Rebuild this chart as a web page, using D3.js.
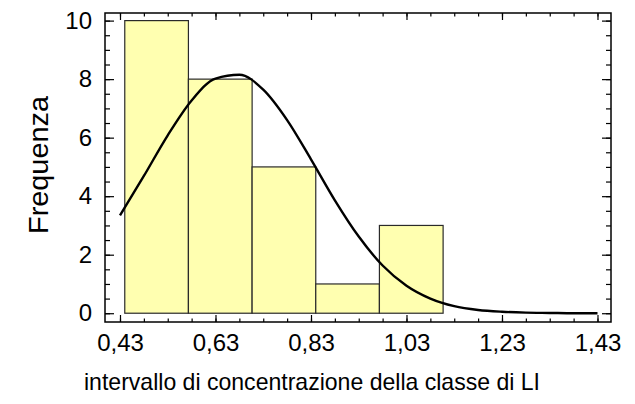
<!DOCTYPE html>
<html>
<head>
<meta charset="utf-8">
<script src="https://cdn.jsdelivr.net/npm/d3@7"></script>
<style>
  body { margin: 0; background: #fff; }
  svg { display: block; font-family: "Liberation Sans", Arial, sans-serif; }
  .frame { fill: none; stroke: #000; stroke-width: 1.5; }
  .tick line { stroke: #000; stroke-width: 1.2; }
  .domain { display: none; }
</style>
</head>
<body>
<div id="chart"></div>
<script>
// histogram classes (edges) and counts
const binEdges = [0.44, 0.5733, 0.7067, 0.84, 0.9733, 1.1067];
const frequencies = [10, 8, 5, 1, 3];

// fitted curve
const curveX = [0.43, 0.48, 0.53, 0.58, 0.63, 0.68, 0.73, 0.78, 0.83, 0.88, 0.93,
  0.98, 1.03, 1.08, 1.13, 1.18, 1.23, 1.28, 1.33, 1.38, 1.43];
const curveY = [3.34, 4.69, 6.08, 7.27, 8.02, 8.15, 7.64, 6.6, 5.26, 3.86, 2.62,
  1.63, 0.94, 0.5, 0.24, 0.11, 0.05, 0.02, 0.01, 0.0, 0.0];

const xTicks = [0.43, 0.63, 0.83, 1.03, 1.23, 1.43];
const yTicks = [0, 2, 4, 6, 8, 10];

const width = 635, height = 404;
const mLeft = 105, mRight = 611, mTop = 13, mBottom = 322;

const x = d3.scaleLinear().domain([0.3986, 1.4583]).range([mLeft, mRight]);
const y = d3.scaleLinear().domain([-0.3, 10.26]).range([mBottom, mTop]);

const svg = d3.select('#chart').append('svg')
  .attr('width', width)
  .attr('height', height);

const bins = frequencies.map((f, i) => ({ x0: binEdges[i], x1: binEdges[i + 1], n: f }));

svg.append('g')
  .selectAll('rect')
  .data(bins)
  .enter().append('rect')
  .attr('x', d => x(d.x0))
  .attr('y', d => y(d.n))
  .attr('width', d => x(d.x1) - x(d.x0))
  .attr('height', d => y(0) - y(d.n))
  .attr('fill', '#ffffb0')
  .attr('stroke', '#2a2a2a')
  .attr('stroke-width', 1.2);

const line = d3.line()
  .x(d => x(d[0]))
  .y(d => y(d[1]))
  .curve(d3.curveMonotoneX);

svg.append('path')
  .datum(curveX.map((v, i) => [v, curveY[i]]))
  .attr('d', line)
  .attr('fill', 'none')
  .attr('stroke', '#000')
  .attr('stroke-width', 2.4);

// ticks
const comma = d3.formatLocale({ decimal: ',', thousands: '.', grouping: [3], currency: ['', ''] });
const xMinor = d3.range(0, 21).map(i => 0.43 + i * 0.05);
const yMinor = d3.range(0, 21).map(i => i * 0.5);

function addAxis(axis, tx, ty) {
  const g = svg.append('g')
    .attr('transform', `translate(${tx},${ty})`)
    .call(axis);
  g.selectAll('text').attr('fill', '#000');
  return g;
}

addAxis(d3.axisBottom(x).tickValues(xMinor).tickSize(-3.5).tickFormat(''), 0, mBottom);
addAxis(d3.axisBottom(x).tickValues(xTicks).tickSize(-7).tickPadding(12)
  .tickFormat(comma.format('.2f')), 0, mBottom)
  .selectAll('text').attr('font-size', 24);
addAxis(d3.axisTop(x).tickValues(xMinor).tickSize(-3.5).tickFormat(''), 0, mTop);
addAxis(d3.axisTop(x).tickValues(xTicks).tickSize(-7).tickFormat(''), 0, mTop);

addAxis(d3.axisLeft(y).tickValues(yMinor).tickSize(-5).tickFormat(''), mLeft, 0);
addAxis(d3.axisLeft(y).tickValues(yTicks).tickSize(-9).tickPadding(13)
  .tickFormat(d3.format('d')), mLeft, 0)
  .selectAll('text').attr('font-size', 24);
addAxis(d3.axisRight(y).tickValues(yMinor).tickSize(-5).tickFormat(''), mRight, 0);
addAxis(d3.axisRight(y).tickValues(yTicks).tickSize(-9).tickFormat(''), mRight, 0);

svg.append('rect')
  .attr('class', 'frame')
  .attr('x', mLeft)
  .attr('y', mTop)
  .attr('width', mRight - mLeft)
  .attr('height', mBottom - mTop);

// axis titles
svg.append('text')
  .attr('x', 312)
  .attr('y', 390)
  .attr('text-anchor', 'middle')
  .attr('font-size', 24)
  .attr('textLength', 456)
  .attr('lengthAdjust', 'spacingAndGlyphs')
  .text('intervallo di concentrazione della classe di LI');

svg.append('text')
  .attr('transform', 'translate(48,165) rotate(-90)')
  .attr('text-anchor', 'middle')
  .attr('font-size', 27)
  .attr('textLength', 138)
  .attr('lengthAdjust', 'spacingAndGlyphs')
  .text('Frequenza');
</script>
</body>
</html>
